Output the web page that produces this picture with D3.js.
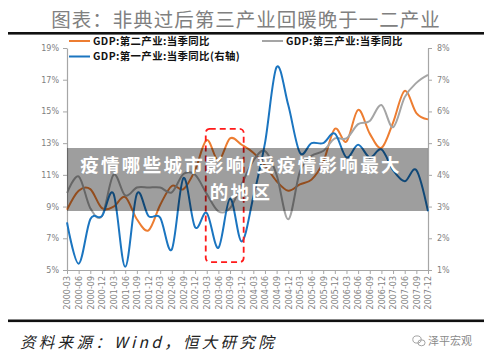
<!DOCTYPE html>
<html>
<head>
<meta charset="utf-8">
<script src="https://cdn.jsdelivr.net/npm/d3@7"></script>
<style>
  body { margin: 0; background: #fff; }
  svg { display: block; }
</style>
</head>
<body>
<svg id="chart" width="500" height="360"></svg>
<script>
var quarters = [
  "2000-03","2000-06","2000-09","2000-12","2001-03","2001-06","2001-09","2001-12",
  "2002-03","2002-06","2002-09","2002-12","2003-03","2003-06","2003-09","2003-12",
  "2004-03","2004-06","2004-09","2004-12","2005-03","2005-06","2005-09","2005-12",
  "2006-03","2006-06","2006-09","2006-12","2007-03","2007-06","2007-09","2007-12"
];
// GDP:第二产业:当季同比 (左轴, %)
var secondary = [8.8,10.0,10.1,8.9,9.0,9.6,8.2,7.5,9.1,10.3,10.1,11.3,13.2,11.9,13.3,12.9,
                 12.4,11.6,10.6,10.0,10.4,10.7,11.8,13.9,13.1,15.1,13.6,12.7,14.3,16.3,14.9,14.5];
// GDP:第三产业:当季同比 (左轴, %)
var tertiary = [9.85,10.9,8.9,8.4,11.0,9.7,10.2,10.2,10.2,9.9,11.05,11.0,9.8,8.7,8.9,10.4,
                11.9,12.5,11.0,8.2,11.2,12.2,12.5,13.3,13.3,14.2,14.4,15.4,14.0,15.9,16.8,17.3];
// GDP:第一产业:当季同比 (右轴, %)
var primary = [2.5,1.2,2.6,2.7,3.4,1.1,3.4,2.7,2.65,1.65,3.9,2.35,2.8,1.7,3.25,1.9,
               3.3,5.0,7.4,6.2,4.7,5.0,5.0,5.3,4.55,4.95,4.55,4.8,4.15,3.8,4.15,2.85];
var leftTicks = [5, 7, 9, 11, 13, 15, 17, 19];
var rightTicks = [1, 2, 3, 4, 5, 6, 7, 8];
var highlightQuarters = ["2003-03", "2003-12"];
var highlightValues = [5.5, 13.9];
var titleText = "图表：非典过后第三产业回暖晚于一二产业";
var sourceText = "资料来源：Wind，恒大研究院";
var overlayLines = ["疫情哪些城市影响/受疫情影响最大", "的地区"];

var svg = d3.select("#chart");
var cfg = {
  left: 67, right: 428, top: 48, bottom: 270,
  orange: "#ed7d31", gray: "#a5a5a5", blue: "#1b75c0",
  axis: "#a6a6a6", label: "#7f7f7f"
};

var x = d3.scalePoint().domain(quarters).range([cfg.left, cfg.right]);
var yL = d3.scaleLinear().domain([5, 19]).range([cfg.bottom, cfg.top]);
var yR = d3.scaleLinear().domain([1, 8]).range([cfg.bottom, cfg.top]);

svg.append("rect").attr("width", 500).attr("height", 360).attr("fill", "#fff");

// title and rules
svg.append("text")
  .attr("x", 246).attr("y", 27)
  .attr("text-anchor", "middle")
  .attr("fill", "#808080")
  .style("font-family", "'Noto Sans CJK SC', sans-serif")
  .style("font-size", "19.5px")
  .style("letter-spacing", "1px")
  .text(titleText);
svg.append("rect").attr("x", 8).attr("y", 32).attr("width", 476).attr("height", 2.6).attr("fill", "#111");
svg.append("rect").attr("x", 8).attr("y", 319.5).attr("width", 476).attr("height", 2.6).attr("fill", "#111");

// axes
var styleAxis = function(g) {
  g.select(".domain").attr("stroke", cfg.axis).attr("stroke-width", 1.2);
  g.selectAll(".tick line").attr("stroke", cfg.axis);
  g.selectAll(".tick text")
    .attr("fill", cfg.label)
    .style("font-family", "'DejaVu Sans', sans-serif")
    .style("font-size", "8px");
};

svg.append("g")
  .attr("transform", "translate(" + cfg.left + ",0)")
  .call(d3.axisLeft(yL).tickValues(leftTicks).tickSize(4).tickSizeOuter(0).tickPadding(4)
    .tickFormat(function(d) { return d + "%"; }))
  .call(styleAxis);

svg.append("g")
  .attr("transform", "translate(" + cfg.right + ",0)")
  .call(d3.axisRight(yR).tickValues(rightTicks).tickSize(4).tickSizeOuter(0).tickPadding(5)
    .tickFormat(function(d) { return d + "%"; }))
  .call(styleAxis);

var xAxis = svg.append("g")
  .attr("transform", "translate(0," + cfg.bottom + ")")
  .call(d3.axisBottom(x).tickSize(4).tickSizeOuter(0))
  .call(styleAxis);
xAxis.selectAll(".tick text")
  .attr("transform", "rotate(-90)")
  .attr("x", -6).attr("y", 0).attr("dy", "0.35em")
  .style("text-anchor", "end")
  .style("font-size", "8px");

// lines
var lineLeft = d3.line()
  .x(function(d, i) { return x(quarters[i]); })
  .y(function(d) { return yL(d); })
  .curve(d3.curveCardinal.tension(0));
var lineRight = d3.line()
  .x(function(d, i) { return x(quarters[i]); })
  .y(function(d) { return yR(d); })
  .curve(d3.curveCardinal.tension(0));

svg.append("path").attr("d", lineLeft(secondary))
  .attr("fill", "none").attr("stroke", cfg.orange).attr("stroke-width", 2);
svg.append("path").attr("d", lineLeft(tertiary))
  .attr("fill", "none").attr("stroke", cfg.gray).attr("stroke-width", 2);
svg.append("path").attr("d", lineRight(primary))
  .attr("fill", "none").attr("stroke", cfg.blue).attr("stroke-width", 2);

// red dashed highlight around SARS quarters
var hx0 = x(highlightQuarters[0]) - 1;
var hx1 = x(highlightQuarters[1]) + 2;
svg.append("rect")
  .attr("x", hx0).attr("y", yL(highlightValues[1]))
  .attr("width", hx1 - hx0)
  .attr("height", yL(highlightValues[0]) - yL(highlightValues[1]))
  .attr("rx", 4)
  .attr("fill", "none").attr("stroke", "#ff1a1a")
  .attr("stroke-width", 1.8).attr("stroke-dasharray", "6,4");

// legend
var legendItems = [
  { label: "GDP:第二产业:当季同比", color: cfg.orange, x: 69, y: 41 },
  { label: "GDP:第一产业:当季同比(右轴)", color: cfg.blue, x: 69, y: 56.5 },
  { label: "GDP:第三产业:当季同比", color: cfg.gray, x: 262, y: 41 }
];
var legend = svg.append("g").selectAll("g").data(legendItems).enter().append("g")
  .attr("transform", function(d) { return "translate(" + d.x + "," + d.y + ")"; });
legend.append("line").attr("x1", 0).attr("x2", 21)
  .attr("stroke", function(d) { return d.color; }).attr("stroke-width", 2);
legend.append("text").attr("x", 24).attr("dy", "0.36em")
  .attr("fill", "#111")
  .style("font-family", "'Noto Sans CJK SC', sans-serif")
  .style("font-weight", "bold")
  .style("font-size", "10.4px")
  .style("letter-spacing", "0.4px")
  .text(function(d) { return d.label; });

// watermark band
svg.append("rect")
  .attr("x", cfg.left).attr("y", 148)
  .attr("width", cfg.right - cfg.left).attr("height", 63)
  .attr("fill", "#000").attr("opacity", 0.38);
svg.append("g").selectAll("text").data(overlayLines).enter().append("text")
  .attr("x", 241)
  .attr("y", function(d, i) { return 172 + i * 27; })
  .attr("text-anchor", "middle")
  .attr("fill", "#fff")
  .style("font-family", "'Noto Sans CJK SC', sans-serif")
  .style("font-weight", "bold")
  .style("font-size", "18.5px")
  .style("letter-spacing", "2.3px")
  .text(function(d) { return d; });

// source
svg.append("text")
  .attr("x", 20).attr("y", 348)
  .attr("fill", "#222")
  .style("font-family", "'Noto Sans CJK SC', sans-serif")
  .style("font-style", "italic")
  .style("font-size", "15.5px")
  .style("letter-spacing", "3.3px")
  .text(sourceText);

// wechat mark
var mark = svg.append("g").attr("transform", "translate(419,341)").attr("fill", "none").attr("stroke", "#9a9a9a").attr("stroke-width", 0.9);
mark.append("ellipse").attr("cx", -2).attr("cy", -1.5).attr("rx", 4.2).attr("ry", 3.6);
mark.append("ellipse").attr("cx", 2.5).attr("cy", 1.8).attr("rx", 3.6).attr("ry", 3);
svg.append("text")
  .attr("x", 428).attr("y", 345)
  .attr("fill", "#8a8a8a")
  .style("font-family", "'Noto Sans CJK SC', sans-serif")
  .style("font-size", "11px")
  .text("泽平宏观");
</script>
</body>
</html>
